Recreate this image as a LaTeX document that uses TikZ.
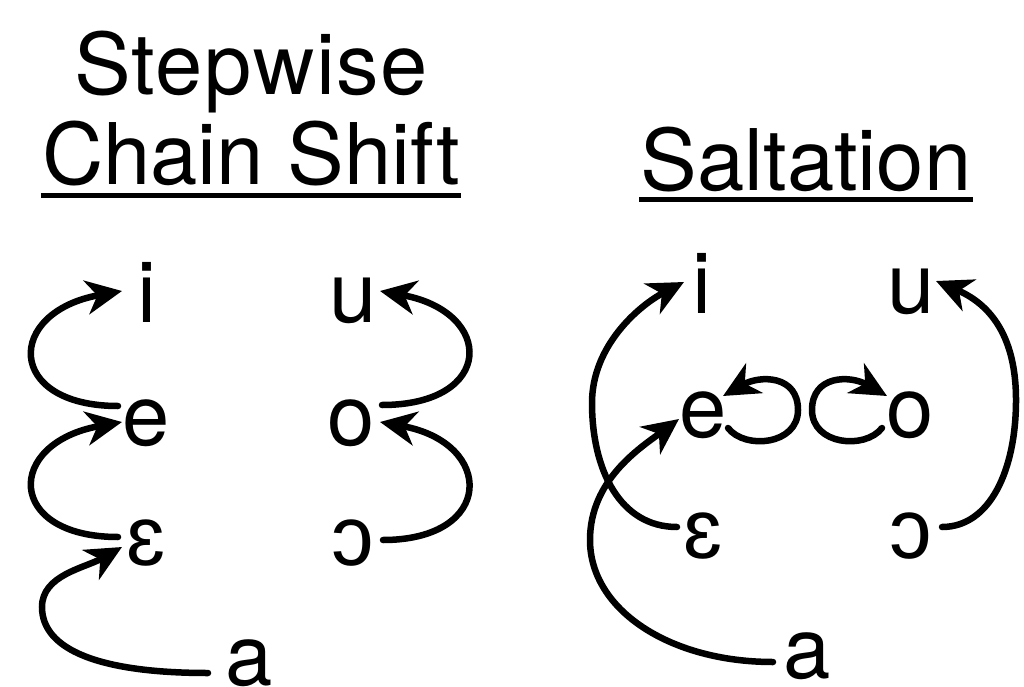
\documentclass[tikz,border=0pt]{standalone}
\usepackage{fontspec}
\setmainfont{TeX Gyre Heros}
\newfontfamily\ipafont{Liberation Sans}
\newfontfamily\spacedfont[LetterSpace=1.8]{TeX Gyre Heros}
\usetikzlibrary{arrows.meta,calc}

\begin{document}
\begin{tikzpicture}[x=1pt,y=-1pt,
  vowel/.style={inner sep=0pt, anchor=base, font=\fontsize{85}{100}\selectfont},
  heading/.style={inner sep=0pt, anchor=base, font=\fontsize{85}{100}\selectfont},
  shiftarrow/.style={line width=6.5pt, line cap=round,
    -{Stealth[length=36pt,width=34pt,inset=11pt]}},
  titlerule/.style={line width=5pt}]
\useasboundingbox (0,0) rectangle (1024,687);

% headings
\node[heading] (t1) at (251,95) {\spacedfont Stepwise};
\node[heading] (t2) at (251,185) {Chain Shift};
\node[heading] (t3) at (806,190) {Saltation};
\draw[titlerule] ($(t2.base west)+(-1,10)$) -- ($(t2.base east)+(1,10)$);
\draw[titlerule] ($(t3.base west)+(-1,9)$) -- ($(t3.base east)+(1,9)$);

% stepwise chain shift vowels
\node[vowel] (i1) at (147,322) {i};
\node[vowel] (u1) at (353,322) {u};
\node[vowel] (e1) at (146,445) {e};
\node[vowel] (o1) at (351,445) {o};
\node[vowel] (E1) at (146,565) {\ipafont ɛ};
\node[vowel] (O1) at (353,565) {\ipafont ɔ};
\node[vowel] (a1) at (249,685) {a};

% saltation vowels
\node[vowel] (i2) at (702,313) {i};
\node[vowel] (u2) at (911,313) {u};
\node[vowel] (e2) at (703,437) {e};
\node[vowel] (o2) at (910,437) {o};
\node[vowel] (E2) at (703,558) {\ipafont ɛ};
\node[vowel] (O2) at (911,558) {\ipafont ɔ};
\node[vowel] (a2) at (807,678) {a};

% stepwise shifts
\draw[shiftarrow] ($(e1.base)+(-28,-39)$) .. controls (5,406) and (5,312) .. ($(i1.base)+(-25,-31)$);
\draw[shiftarrow] ($(E1.base)+(-28,-28)$) .. controls (5,537) and (5,443) .. ($(e1.base)+(-24,-23)$);
\draw[shiftarrow] ($(a1.base)+(-41,-12)$) .. controls (100,673) and (42,650) .. (42,607)
  .. controls (42,575) and (85,568) .. ($(E1.base)+(-24,-18)$);
\draw[shiftarrow] ($(o1.base)+(31,-40)$) .. controls (495,405) and (495,312) .. ($(u1.base)+(27,-31)$);
\draw[shiftarrow] ($(O1.base)+(30,-25)$) .. controls (495,540) and (495,443) .. ($(o1.base)+(29,-23)$);

% saltations
\draw[shiftarrow] ($(E2.base)+(-26,-31)$) .. controls (620,527) and (592,470) .. (592,403)
  .. controls (592,345) and (640,305) .. ($(i2.base)+(-18,-31)$);
\draw[shiftarrow] ($(O2.base)+(31,-31)$) .. controls (990,527) and (1016,470) .. (1016,400)
  .. controls (1016,330) and (985,302) .. ($(u2.base)+(25,-32)$);
\draw[shiftarrow] ($(a2.base)+(-34,-16)$) .. controls (670,662) and (590,610) .. (590,540)
  .. controls (590,480) and (640,448) .. ($(e2.base)+(-24,-18)$);

% self loops on the mid vowels
\draw[shiftarrow] ($(e2.base)+(25,-9)$) .. controls (745,450) and (798,445) .. (798,410)
  .. controls (798,375) and (760,375) .. ($(e2.base)+(20,-41)$);
\draw[shiftarrow] ($(o2.base)+(-28,-9)$) .. controls (865,450) and (812,445) .. (812,410)
  .. controls (812,375) and (850,375) .. ($(o2.base)+(-23,-41)$);
\end{tikzpicture}
\end{document}
